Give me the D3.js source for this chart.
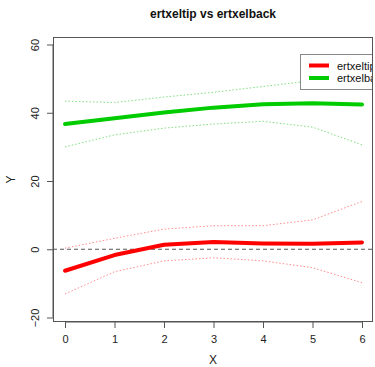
<!DOCTYPE html>
<html>
<head>
<meta charset="utf-8">
<script src="https://cdn.jsdelivr.net/npm/d3@7"></script>
<style>
  body { margin: 0; background: #fff; }
  svg { font-family: "Liberation Sans", Arial, sans-serif; }
</style>
</head>
<body>
<div id="chart"></div>
<script>
"use strict";

// chart values
let xValues = [0, 1, 2, 3, 4, 5, 6];
let xTicks = [0, 1, 2, 3, 4, 5, 6];
let yTicks = [-20, 0, 20, 40, 60];

let tipMean = [-6.3, -1.7, 1.3, 2.1, 1.7, 1.6, 2.0];
let tipUpper = [0.3, 3.2, 5.9, 6.9, 6.9, 8.6, 14.0];
let tipLower = [-13.1, -6.6, -3.4, -2.5, -3.4, -5.4, -9.8];

let backMean = [36.7, 38.4, 40.1, 41.5, 42.5, 42.8, 42.4];
let backUpper = [43.4, 43.0, 44.6, 46.0, 47.7, 49.4, 51.2];
let backLower = [30.0, 33.5, 35.5, 36.7, 37.5, 35.8, 30.6];

let seriesNames = ["ertxeltip", "ertxelback"];
let seriesColors = ["#ff0000", "#00cc00"];
let bandColors = ["#ff8c8c", "#80e080"];

let width = 375, height = 367;
let box = { left: 53, right: 373, top: 37, bottom: 322 };

let svg = d3.select("#chart").append("svg")
  .attr("width", width)
  .attr("height", height);

let x = d3.scaleLinear()
  .domain([0, 6])
  .range([65, 362]);

let y = d3.scaleLinear()
  .domain([-20, 60])
  .range([317.5, 44.5]);

svg.append("defs").append("clipPath")
  .attr("id", "plotClip")
  .append("rect")
  .attr("x", box.left)
  .attr("y", box.top)
  .attr("width", box.right - box.left)
  .attr("height", box.bottom - box.top);

// title
svg.append("text")
  .attr("x", (box.left + box.right) / 2)
  .attr("y", 18)
  .attr("text-anchor", "middle")
  .style("font-size", "12px")
  .style("font-weight", "bold")
  .style("fill", "#111")
  .text("ertxeltip vs ertxelback");

let plotG = svg.append("g").attr("clip-path", "url(#plotClip)");

// reference line at 0
plotG.append("line")
  .attr("x1", box.left)
  .attr("x2", box.right)
  .attr("y1", y(0))
  .attr("y2", y(0))
  .style("stroke", "#555")
  .style("stroke-width", 1)
  .style("stroke-dasharray", "4,3");

let line = d3.line()
  .x((d, i) => x(xValues[i]))
  .y(d => y(d));

let series = [
  { mean: tipMean, upper: tipUpper, lower: tipLower },
  { mean: backMean, upper: backUpper, lower: backLower }
];

series.forEach(function(s, k) {
  [s.upper, s.lower].forEach(function(band) {
    plotG.append("path")
      .attr("d", line(band))
      .style("fill", "none")
      .style("stroke", bandColors[k])
      .style("stroke-width", 1)
      .style("stroke-dasharray", "1.5,2");
  });

  plotG.append("path")
    .attr("d", line(s.mean))
    .style("fill", "none")
    .style("stroke", seriesColors[k])
    .style("stroke-width", 4)
    .style("stroke-linejoin", "round")
    .style("stroke-linecap", "round");
});

// legend (runs past the plot box on the right, as in the original)
let legendG = plotG.append("g");

legendG.append("rect")
  .attr("x", 300.5)
  .attr("y", 54.5)
  .attr("width", 90)
  .attr("height", 35)
  .style("fill", "#fff")
  .style("stroke", "#888")
  .style("stroke-width", 1);

seriesNames.forEach(function(name, i) {
  let ly = 65.5 + i * 12.5;
  legendG.append("line")
    .attr("x1", 309)
    .attr("x2", 329)
    .attr("y1", ly)
    .attr("y2", ly)
    .style("stroke", seriesColors[i])
    .style("stroke-width", 4);
  legendG.append("text")
    .attr("x", 337)
    .attr("y", ly + 4)
    .style("font-size", "11px")
    .style("fill", "#111")
    .text(name);
});

// plot box
svg.append("rect")
  .attr("x", box.left + 0.5)
  .attr("y", box.top + 0.5)
  .attr("width", box.right - box.left - 1)
  .attr("height", box.bottom - box.top - 1)
  .style("fill", "none")
  .style("stroke", "#555")
  .style("stroke-width", 1);

// axes
let xAxis = d3.axisBottom(x)
  .tickValues(xTicks)
  .tickFormat(d3.format("d"))
  .tickSize(6)
  .tickPadding(7);

let xAxisG = svg.append("g")
  .attr("transform", "translate(0," + box.bottom + ")")
  .call(xAxis);
xAxisG.select(".domain")
  .attr("d", "M" + x(0) + ",0H" + x(6))
  .style("stroke", "#555");
xAxisG.selectAll(".tick line").style("stroke", "#555");
xAxisG.selectAll(".tick text")
  .style("font-size", "11px")
  .style("fill", "#222");

let yAxis = d3.axisLeft(y)
  .tickValues(yTicks)
  .tickFormat(d3.format("d"))
  .tickSize(6);

let yAxisG = svg.append("g")
  .attr("transform", "translate(" + box.left + ",0)")
  .call(yAxis);
yAxisG.select(".domain")
  .attr("d", "M0," + y(-20) + "V" + y(60))
  .style("stroke", "#555");
yAxisG.selectAll(".tick line").style("stroke", "#555");
yAxisG.selectAll(".tick text")
  .attr("x", 0)
  .attr("y", 0)
  .attr("dy", "0.35em")
  .attr("transform", "translate(-18,0) rotate(-90)")
  .attr("text-anchor", "middle")
  .style("font-size", "11px")
  .style("fill", "#222");

// axis titles
svg.append("text")
  .attr("x", (box.left + box.right) / 2)
  .attr("y", 364)
  .attr("text-anchor", "middle")
  .style("font-size", "12px")
  .style("fill", "#222")
  .text("X");

svg.append("text")
  .attr("transform", "translate(15," + ((box.top + box.bottom) / 2) + ") rotate(-90)")
  .attr("text-anchor", "middle")
  .style("font-size", "12px")
  .style("fill", "#222")
  .text("Y");
</script>
</body>
</html>
